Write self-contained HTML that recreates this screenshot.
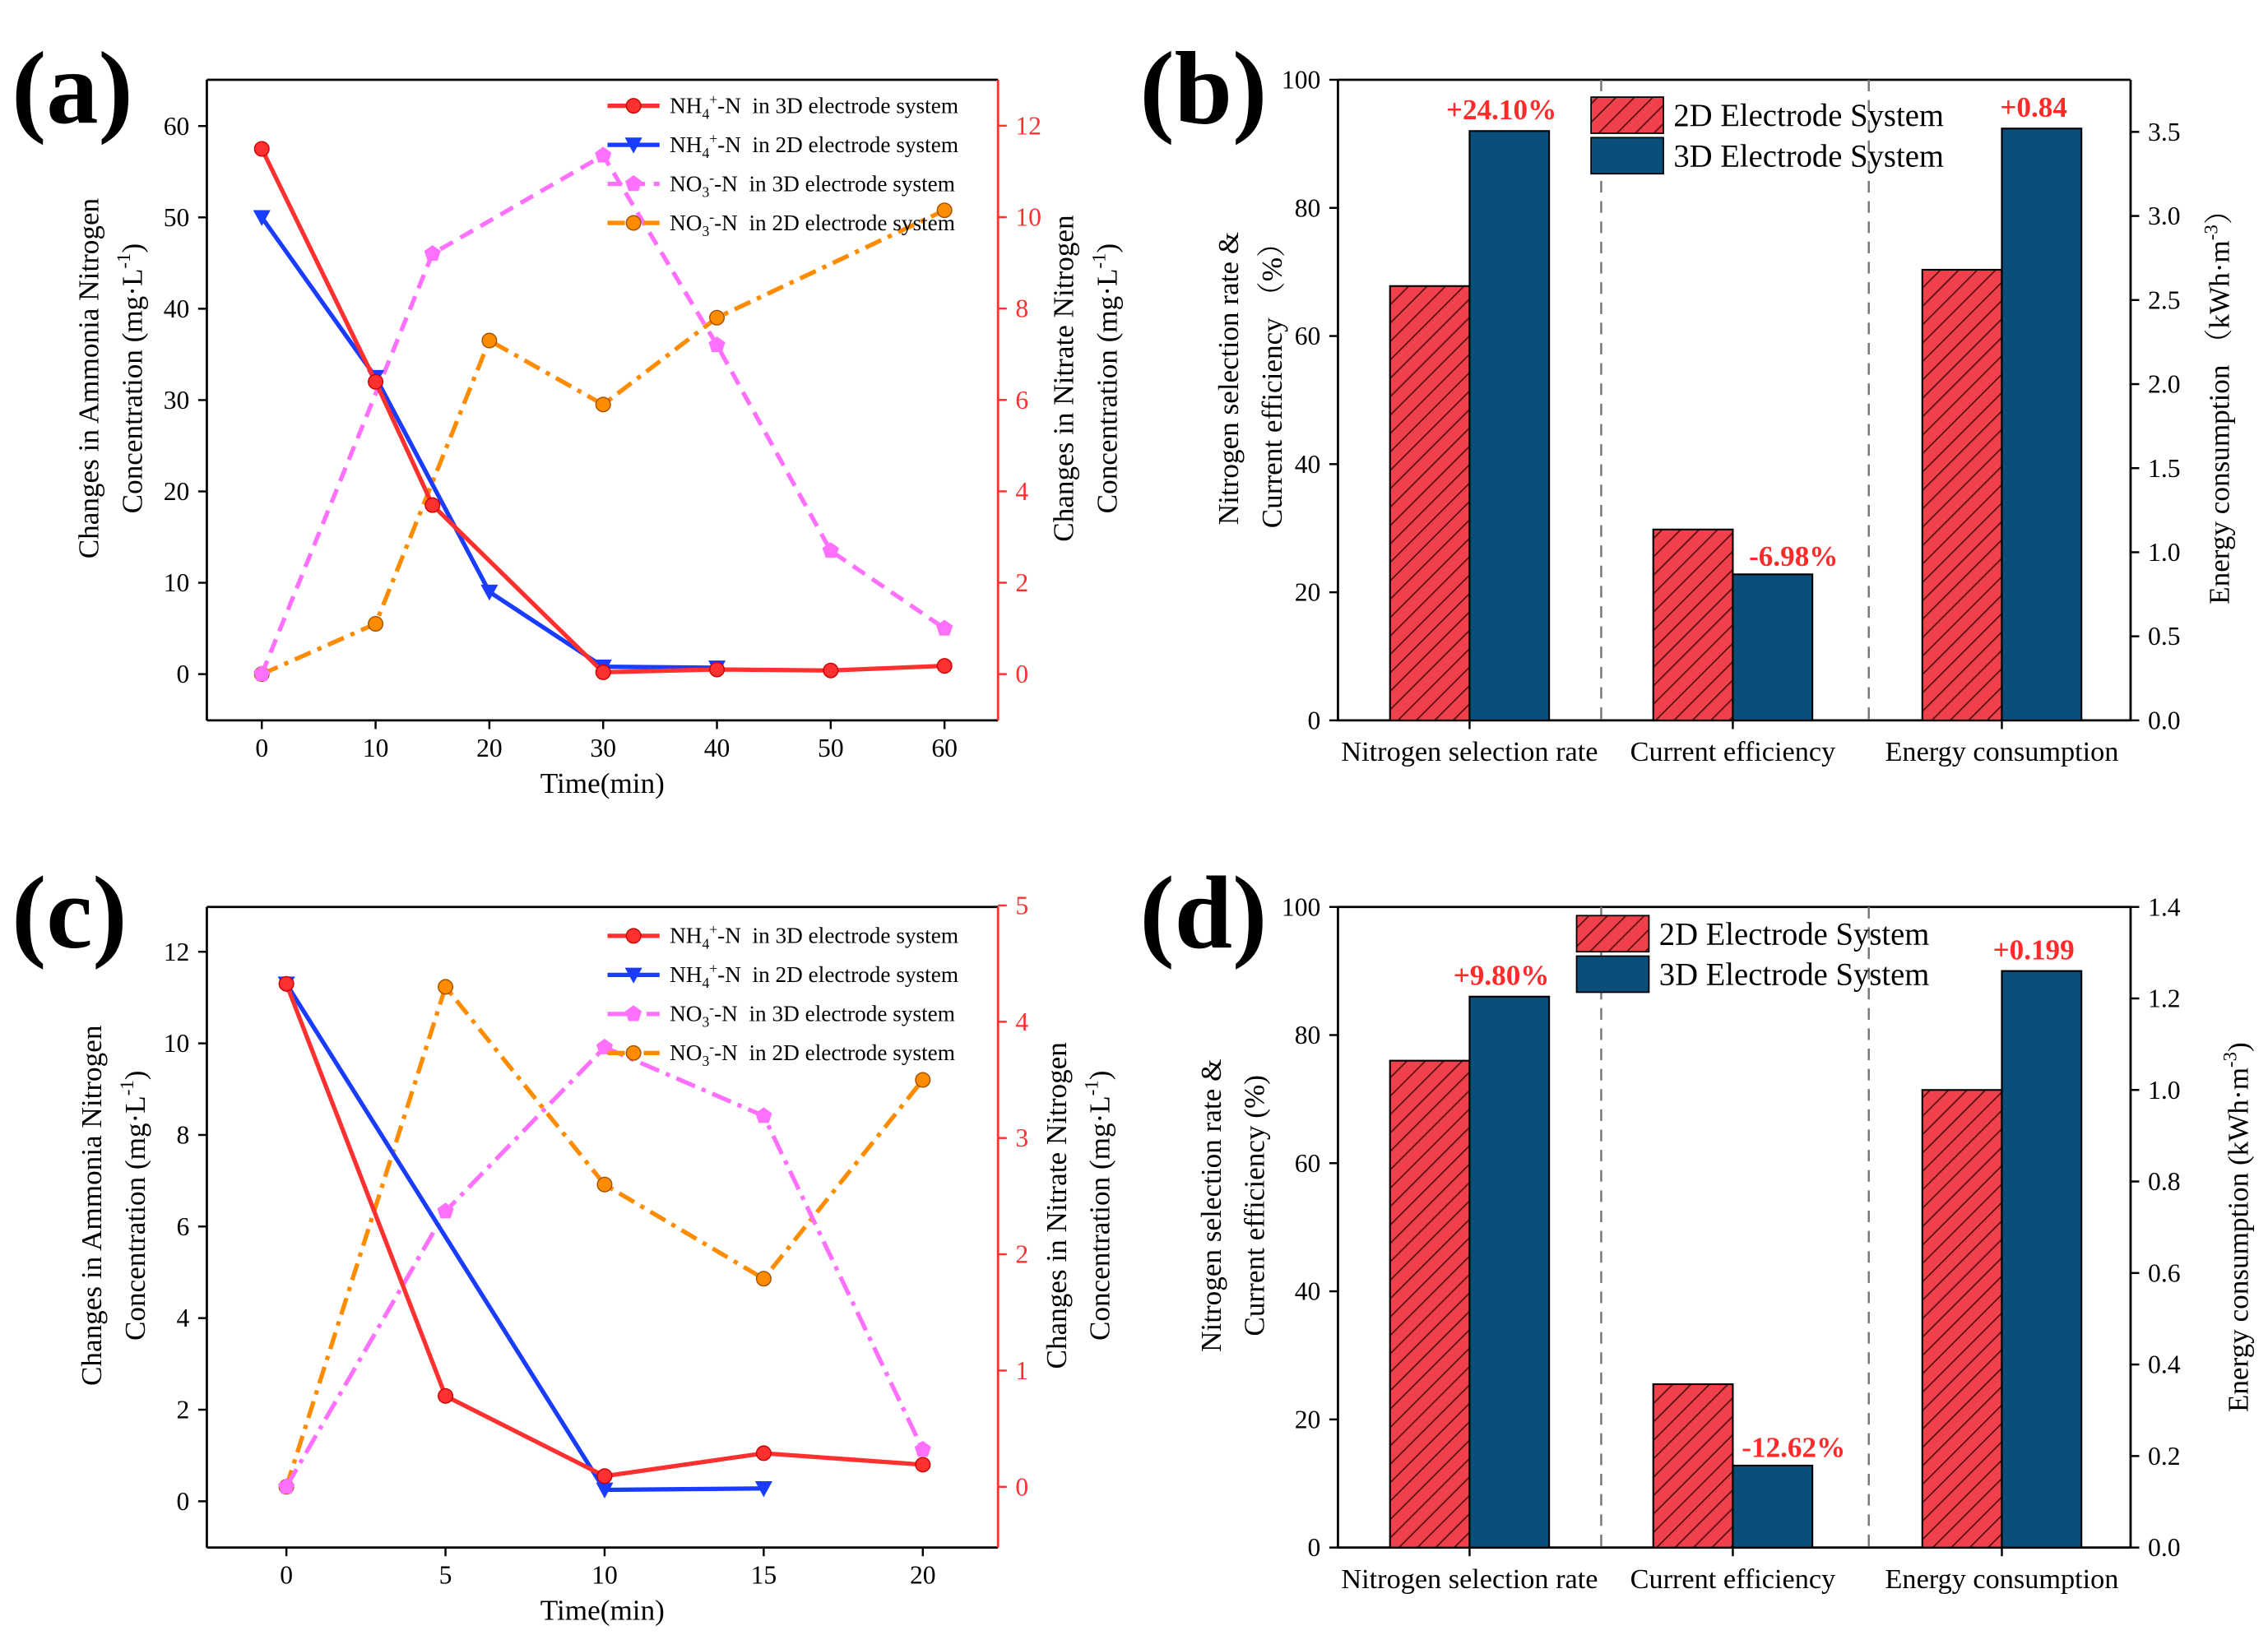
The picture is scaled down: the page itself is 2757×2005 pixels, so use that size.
<!DOCTYPE html>
<html><head><meta charset="utf-8"><style>
html,body{margin:0;padding:0;background:#fff;}
svg{display:block;font-family:"Liberation Serif","Noto Serif CJK SC",serif;}
</style></head><body>
<svg id="fig" width="2757" height="2005" viewBox="0 0 1568 1140" xmlns="http://www.w3.org/2000/svg">
<defs>
<pattern id="hatch" patternUnits="userSpaceOnUse" width="9" height="9" patternTransform="rotate(45)">
<rect width="9" height="9" fill="#f0404c"/><line x1="0" y1="0" x2="0" y2="9" stroke="#5a1010" stroke-width="2"/>
</pattern>
</defs>
<g id="root"></g>
</svg>
<script>
// ---- Panel (a) data ----
const aNH3D_x=[0,10,15,30,40,50,60];
const aNH3D_y=[57.5,32,18.5,0.2,0.5,0.4,0.9];
const aNH2D_x=[0,10,20,30,40];
const aNH2D_y=[50,32.5,9,0.8,0.7];
const aNO3D_x=[0,15,30,40,50,60];
const aNO3D_y=[0,9.2,11.35,7.2,2.7,1.0];
const aNO2D_x=[0,10,20,30,40,60];
const aNO2D_y=[0,1.1,7.3,5.9,7.8,10.15];
const aXTicks=[0,10,20,30,40,50,60];
const aLTicks=[0,10,20,30,40,50,60];
const aRTicks=[0,2,4,6,8,10,12];
// ---- Panel (c) data ----
const cNH3D_x=[0,5,10,15,20];
const cNH3D_y=[11.3,2.3,0.55,1.05,0.8];
const cNH2D_x=[0,10,15];
const cNH2D_y=[11.3,0.25,0.28];
const cNO3D_x=[0,5,10,15,20];
const cNO3D_y=[0,2.37,3.78,3.19,0.32];
const cNO2D_x=[0,5,10,15,20];
const cNO2D_y=[0,4.3,2.6,1.79,3.5];
const cXTicks=[0,5,10,15,20];
const cLTicks=[0,2,4,6,8,10,12];
const cRTicks=[0,1,2,3,4,5];
// ---- Panel (b) data ----
const barCats=["Nitrogen selection rate","Current efficiency","Energy consumption"];
const b2D=[67.8,29.8,2.68];
const b3D=[92,22.8,3.52];
const bLabels=["+24.10%","-6.98%","+0.84"];
const bLTicks=[0,20,40,60,80,100];
const bRTicks=[0,0.5,1.0,1.5,2.0,2.5,3.0,3.5];
// ---- Panel (d) data ----
const d2D=[76,25.5,1.0];
const d3D=[86,12.8,1.26];
const dLabels=["+9.80%","-12.62%","+0.199"];
const dLTicks=[0,20,40,60,80,100];
const dRTicks=[0,0.2,0.4,0.6,0.8,1.0,1.2,1.4];

const NS="http://www.w3.org/2000/svg";
const root=document.getElementById('root');
function mk(tag,attrs,parent,txt){const e=document.createElementNS(NS,tag);for(const k in attrs)e.setAttribute(k,attrs[k]);if(txt!==undefined)e.textContent=txt;(parent||root).appendChild(e);return e;}
function lin(d0,d1,r0,r1){return v=>r0+(v-d0)/(d1-d0)*(r1-r0);}
function fmt(v,dec){return dec?v.toFixed(1):String(v);}

function frame(g,x0,x1,y0,y1,rightColor){
  mk('line',{x1:x0,y1:y0,x2:x0,y2:y1,stroke:'#000','stroke-width':1.6},g);
  mk('line',{x1:x0,y1:y1,x2:x1,y2:y1,stroke:'#000','stroke-width':1.6},g);
  mk('line',{x1:x0,y1:y0,x2:x1,y2:y0,stroke:'#000','stroke-width':1.6},g);
  mk('line',{x1:x1,y1:y0,x2:x1,y2:y1,stroke:rightColor,'stroke-width':1.6},g);
}
function leftTicks(g,ticks,ys,x0,dec){
  ticks.forEach(t=>{const y=ys(t);
    mk('line',{x1:x0,y1:y,x2:x0-6,y2:y,stroke:'#000','stroke-width':1.4},g);
    const tx=mk('text',{x:x0-12,y:y+6,'text-anchor':'end','font-size':18},g,fmt(t,dec));
    
    
  });
}
function rightTicks(g,ticks,ys,x1,col,dec){
  ticks.forEach(t=>{const y=ys(t);
    mk('line',{x1:x1,y1:y,x2:x1+6,y2:y,stroke:col,'stroke-width':1.4},g);
    const tx=mk('text',{x:x1+12,y:y+6,'text-anchor':'start','font-size':18,fill:col},g,fmt(t,dec));
    
    
  });
}
function vtitle(g,x,y,lines,col,name){
  const t=mk('text',{transform:`translate(${x},${y}) rotate(-90)`,'text-anchor':'middle','font-size':20,fill:col||'#000'},g);
  
  
  lines.forEach((l,i)=>{mk('tspan',{x:0,dy:i?30:0},t).innerHTML=l;});
}
function marker(g,shape,x,y,col){
  if(shape==='circle')mk('circle',{cx:x,cy:y,r:5,fill:col,stroke:'#c00','stroke-width':0.8},g);
  else if(shape==='tri')mk('polygon',{points:`${x-6},${y-5} ${x+6},${y-5} ${x},${y+6}`,fill:col},g);
  else if(shape==='pent'){let p=[];for(let i=0;i<5;i++){const a=-Math.PI/2+i*2*Math.PI/5;p.push((x+6*Math.cos(a)).toFixed(1)+','+(y+6*Math.sin(a)).toFixed(1));}mk('polygon',{points:p.join(' '),fill:col},g);}
  else if(shape==='ocircle')mk('circle',{cx:x,cy:y,r:5,fill:col,stroke:'#a05000','stroke-width':0.8},g);
}
function series(g,xs,ys,X,Y,col,dash,shape,name){
  const s=mk('g',{},g);
  
  
  const pts=xs.map((v,i)=>X(v).toFixed(1)+','+Y(ys[i]).toFixed(1)).join(' ');
  mk('polyline',{points:pts,fill:'none',stroke:col,'stroke-width':3,'stroke-dasharray':dash||'none'},s);
  xs.forEach((v,i)=>marker(s,shape,X(v),Y(ys[i]),col));
}
function legendLine(g,x,y,col,dash,shape,html,name){
  const e=mk('g',{},g);
  
  
  mk('line',{x1:x,y1:y,x2:x+36,y2:y,stroke:col,'stroke-width':3,'stroke-dasharray':dash||'none'},e);
  marker(e,shape,x+18,y,col);
  const t=mk('text',{x:x+43,y:y+5,'font-size':15.5,style:'white-space:pre'},e);t.innerHTML=html;
}
function panelLabel(x,y,s){const t=mk('text',{x:x,y:y,'font-size':72,'font-weight':'bold'},root,s);
  
  }

// ----- line panels -----
function linePanel(o){
  const g=mk('g',{});
  
  
  const X=lin(o.xd[0],o.xd[1],o.xr[0],o.xr[1]);
  const YL=lin(0,o.lMaxV,o.l0,o.lMaxY);
  const YR=lin(0,o.rMaxV,o.r0,o.rMaxY);
  frame(g,o.x0,o.x1,o.y0,o.y1,'#ff3030');
  o.xt.forEach(t=>{const x=X(t);mk('line',{x1:x,y1:o.y1,x2:x,y2:o.y1+6,stroke:'#000','stroke-width':1.4},g);
    const tx=mk('text',{x:x,y:o.y1+25,'text-anchor':'middle','font-size':18},g,String(t));
    
    });
  leftTicks(g,o.lt,YL,o.x0,false);
  rightTicks(g,o.rt,YR,o.x1,'#ff3030',false);
  const xt=mk('text',{x:(o.x0+o.x1)/2,y:o.y1+50,'text-anchor':'middle','font-size':20},g,'Time(min)');
  
  
  vtitle(g,o.lt1x,(o.y0+o.y1)/2-15,['Changes in Ammonia Nitrogen',o.lunit],'#000','left-y-axis-title');
  vtitle(g,o.rt1x,(o.y0+o.y1)/2-15,['Changes in Nitrate Nitrogen',o.runit],'#000','right-y-axis-title');
  series(g,o.d[6],o.d[7],X,YR,'#ff8c00','12,5,3,5','ocircle','series-no3-2d');
  series(g,o.d[4],o.d[5],X,YR,'#ff70ff',o.pinkDash,'pent','series-no3-3d');
  series(g,o.d[2],o.d[3],X,YL,'#1a3cff',null,'tri','series-nh4-2d');
  series(g,o.d[0],o.d[1],X,YL,'#ff3030',null,'circle','series-nh4-3d');
  const L=o.legY;
  legendLine(g,420,L,'#ff3030',null,'circle','NH<tspan font-size="10" dy="4">4</tspan><tspan font-size="10" dy="-10">+</tspan><tspan dy="6">-N  in 3D electrode system</tspan>','legend-entry-nh4-3d');
  legendLine(g,420,L+27,'#1a3cff',null,'tri','NH<tspan font-size="10" dy="4">4</tspan><tspan font-size="10" dy="-10">+</tspan><tspan dy="6">-N  in 2D electrode system</tspan>','legend-entry-nh4-2d');
  legendLine(g,420,L+54,'#ff70ff',o.pinkDash,'pent','NO<tspan font-size="10" dy="4">3</tspan><tspan font-size="10" dy="-10">-</tspan><tspan dy="6">-N  in 3D electrode system</tspan>','legend-entry-no3-3d');
  legendLine(g,420,L+81,'#ff8c00','12,5,3,5','ocircle','NO<tspan font-size="10" dy="4">3</tspan><tspan font-size="10" dy="-10">-</tspan><tspan dy="6">-N  in 2D electrode system</tspan>','legend-entry-no3-2d');
}
const unitL='Concentration (mg·L<tspan font-size="13" dy="-8">-1</tspan><tspan dy="8">)</tspan>';
linePanel({name:'panel-a',x0:143,x1:690,y0:55,y1:498,xd:[0,60],xr:[181,653],l0:466,lMaxV:60,lMaxY:87,r0:466,rMaxV:10,rMaxY:150,
  xt:aXTicks,lt:aLTicks,rt:aRTicks,lt1x:68,rt1x:742,lunit:unitL,runit:unitL,legY:73,pinkDash:'10,6',
  d:[aNH3D_x,aNH3D_y,aNH2D_x,aNH2D_y,aNO3D_x,aNO3D_y,aNO2D_x,aNO2D_y]});
linePanel({name:'panel-c',x0:143,x1:690,y0:627,y1:1070,xd:[0,20],xr:[198,638],l0:1038,lMaxV:12,lMaxY:658,r0:1028,rMaxV:5,rMaxY:626,
  xt:cXTicks,lt:cLTicks,rt:cRTicks,lt1x:70,rt1x:737,lunit:'Concentration  (mg·L<tspan font-size="13" dy="-8">-1</tspan><tspan dy="8">)</tspan>',runit:unitL,legY:647,pinkDash:'14,5,3,5',
  d:[cNH3D_x,cNH3D_y,cNH2D_x,cNH2D_y,cNO3D_x,cNO3D_y,cNO2D_x,cNO2D_y]});

// ----- bar panels -----
function barPanel(o){
  const g=mk('g',{});
  
  
  const YL=lin(0,100,o.y1,o.y0);
  const YR=lin(0,o.rMax,o.y1,o.y0);
  frame(g,925,1473,o.y0,o.y1,'#000');
  leftTicks(g,o.lt,YL,925,false);
  rightTicks(g,o.rt,YR,1473,'#000',true);
  const centers=[1016,1198,1384];
  [1107,1292].forEach(x=>mk('line',{x1:x,y1:o.y0,x2:x,y2:o.y1,stroke:'#777','stroke-width':1.4,'stroke-dasharray':'8,6'},g));
  barCats.forEach((c,i)=>{
    const Y=i===2?YR:YL;
    const c2=centers[i];
    const r1=mk('rect',{x:c2-55,y:Y(o.v2[i]),width:55,height:o.y1-Y(o.v2[i]),fill:'url(#hatch)',stroke:'#000','stroke-width':1.2},g);
    
    
    const r2=mk('rect',{x:c2,y:Y(o.v3[i]),width:55,height:o.y1-Y(o.v3[i]),fill:'#0a4f7a',stroke:'#000','stroke-width':1.2},g);
    
    
    const lb=mk('text',{x:c2+(i===1?42:22),y:Y(o.v3[i])-(i===1?6:8),'text-anchor':'middle','font-size':20,'font-weight':'bold',fill:'#ff2a2a'},g,o.labels[i]);
    
    
    mk('line',{x1:c2,y1:o.y1,x2:c2,y2:o.y1+6,stroke:'#000','stroke-width':1.4},g);
    const ct=mk('text',{x:c2,y:o.y1+28,'text-anchor':'middle','font-size':19.5},g,c);
    
    
  });
  const lg=mk('g',{},g);
  
  
  mk('rect',{x:o.legX,y:o.legY,width:50,height:25,fill:'url(#hatch)',stroke:'#000','stroke-width':1},lg);
  mk('text',{x:o.legX+57,y:o.legY+20,'font-size':22},lg,'2D Electrode System');
  mk('rect',{x:o.legX,y:o.legY+28,width:50,height:25,fill:'#0a4f7a',stroke:'#000','stroke-width':1},lg);
  mk('text',{x:o.legX+57,y:o.legY+48,'font-size':22},lg,'3D Electrode System');
  vtitle(g,o.ltx,(o.y0+o.y1)/2-15,['Nitrogen selection rate &amp;',o.lunit],'#000','left-y-axis-title');
  vtitle(g,o.rtx,(o.y0+o.y1)/2,[o.runit],'#000','right-y-axis-title');
}
barPanel({name:'panel-b',y0:55,y1:498,rMax:3.81,v2:b2D,v3:b3D,labels:bLabels,lt:bLTicks,rt:bRTicks,legX:1100,legY:67,ltx:856,rtx:1541,
  lunit:'Current efficiency （%）',runit:'Energy consumption （kWh·m<tspan font-size="13" dy="-8">-3</tspan><tspan dy="8">）</tspan>'});
barPanel({name:'panel-d',y0:627,y1:1070,rMax:1.4,v2:d2D,v3:d3D,labels:dLabels,lt:dLTicks,rt:dRTicks,legX:1090,legY:633,ltx:844,rtx:1554,
  lunit:'Current efficiency (%)',runit:'Energy consumption (kWh·m<tspan font-size="13" dy="-8">-3</tspan><tspan dy="8">)</tspan>'});

panelLabel(8,85,'(a)');
panelLabel(788,85,'(b)');
panelLabel(8,655,'(c)');
panelLabel(788,655,'(d)');
</script>
</body></html>
